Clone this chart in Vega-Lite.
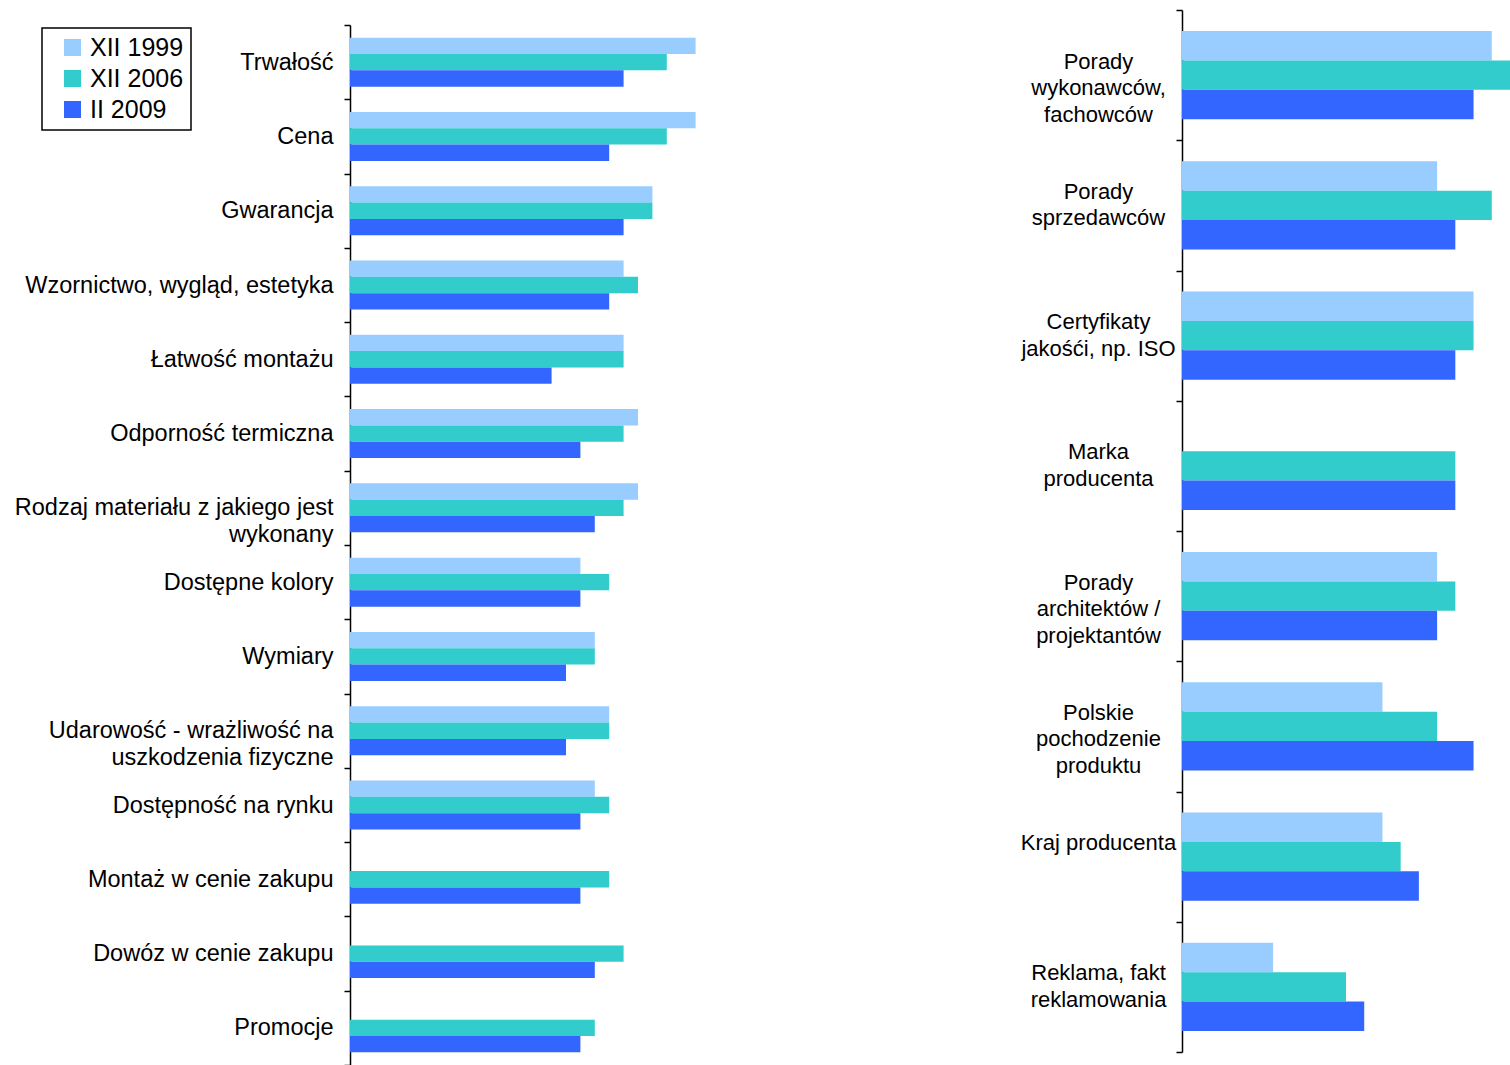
{
  "$schema": "https://vega.github.io/schema/vega-lite/v6.json",
  "background": "white",
  "autosize": {"type": "none"},
  "padding": {"left": 350, "top": 10, "right": 1160, "bottom": 1055},
  "config": {
    "font": "Liberation Sans",
    "view": {"stroke": null},
    "axis": {
      "title": null,
      "domainColor": "black",
      "domainWidth": 1.5,
      "tickColor": "black",
      "tickWidth": 1.5,
      "tickSize": 6,
      "tickBand": "extent",
      "labelColor": "black",
      "labelFont": "Liberation Sans",
      "labelLimit": 500,
      "labelLineHeight": 26.5,
      "grid": false
    },
    "legend": {
      "orient": "none",
      "legendX": -308,
      "legendY": 18,
      "strokeColor": "black",
      "strokeWidth": 1.5,
      "padding": 7,
      "symbolType": "square",
      "symbolSize": 289,
      "symbolStrokeWidth": 0,
      "symbolOffset": 11,
      "labelOffset": 5,
      "labelFont": "Liberation Sans",
      "labelFontSize": 25,
      "labelColor": "black",
      "rowPadding": 5
    }
  },
  "datasets": {
    "cechy_produktu": [
      {"cecha": "Trwałość", "okres": "XII 1999", "ocena": 4.8},
      {"cecha": "Trwałość", "okres": "XII 2006", "ocena": 4.4},
      {"cecha": "Trwałość", "okres": "II 2009", "ocena": 3.8},
      {"cecha": "Cena", "okres": "XII 1999", "ocena": 4.8},
      {"cecha": "Cena", "okres": "XII 2006", "ocena": 4.4},
      {"cecha": "Cena", "okres": "II 2009", "ocena": 3.6},
      {"cecha": "Gwarancja", "okres": "XII 1999", "ocena": 4.2},
      {"cecha": "Gwarancja", "okres": "XII 2006", "ocena": 4.2},
      {"cecha": "Gwarancja", "okres": "II 2009", "ocena": 3.8},
      {"cecha": "Wzornictwo, wygląd, estetyka", "okres": "XII 1999", "ocena": 3.8},
      {"cecha": "Wzornictwo, wygląd, estetyka", "okres": "XII 2006", "ocena": 4.0},
      {"cecha": "Wzornictwo, wygląd, estetyka", "okres": "II 2009", "ocena": 3.6},
      {"cecha": "Łatwość montażu", "okres": "XII 1999", "ocena": 3.8},
      {"cecha": "Łatwość montażu", "okres": "XII 2006", "ocena": 3.8},
      {"cecha": "Łatwość montażu", "okres": "II 2009", "ocena": 2.8},
      {"cecha": "Odporność termiczna", "okres": "XII 1999", "ocena": 4.0},
      {"cecha": "Odporność termiczna", "okres": "XII 2006", "ocena": 3.8},
      {"cecha": "Odporność termiczna", "okres": "II 2009", "ocena": 3.2},
      {"cecha": "Rodzaj materiału z jakiego jest\nwykonany", "okres": "XII 1999", "ocena": 4.0},
      {"cecha": "Rodzaj materiału z jakiego jest\nwykonany", "okres": "XII 2006", "ocena": 3.8},
      {"cecha": "Rodzaj materiału z jakiego jest\nwykonany", "okres": "II 2009", "ocena": 3.4},
      {"cecha": "Dostępne kolory", "okres": "XII 1999", "ocena": 3.2},
      {"cecha": "Dostępne kolory", "okres": "XII 2006", "ocena": 3.6},
      {"cecha": "Dostępne kolory", "okres": "II 2009", "ocena": 3.2},
      {"cecha": "Wymiary", "okres": "XII 1999", "ocena": 3.4},
      {"cecha": "Wymiary", "okres": "XII 2006", "ocena": 3.4},
      {"cecha": "Wymiary", "okres": "II 2009", "ocena": 3.0},
      {"cecha": "Udarowość - wrażliwość na\nuszkodzenia fizyczne", "okres": "XII 1999", "ocena": 3.6},
      {"cecha": "Udarowość - wrażliwość na\nuszkodzenia fizyczne", "okres": "XII 2006", "ocena": 3.6},
      {"cecha": "Udarowość - wrażliwość na\nuszkodzenia fizyczne", "okres": "II 2009", "ocena": 3.0},
      {"cecha": "Dostępność na rynku", "okres": "XII 1999", "ocena": 3.4},
      {"cecha": "Dostępność na rynku", "okres": "XII 2006", "ocena": 3.6},
      {"cecha": "Dostępność na rynku", "okres": "II 2009", "ocena": 3.2},
      {"cecha": "Montaż w cenie zakupu", "okres": "XII 2006", "ocena": 3.6},
      {"cecha": "Montaż w cenie zakupu", "okres": "II 2009", "ocena": 3.2},
      {"cecha": "Dowóz w cenie zakupu", "okres": "XII 2006", "ocena": 3.8},
      {"cecha": "Dowóz w cenie zakupu", "okres": "II 2009", "ocena": 3.4},
      {"cecha": "Promocje", "okres": "XII 2006", "ocena": 3.4},
      {"cecha": "Promocje", "okres": "II 2009", "ocena": 3.2}
    ],
    "zrodla_informacji": [
      {"zrodlo": "Porady\nwykonawców,\nfachowców", "okres": "XII 1999", "ocena": 3.4},
      {"zrodlo": "Porady\nwykonawców,\nfachowców", "okres": "XII 2006", "ocena": 3.6},
      {"zrodlo": "Porady\nwykonawców,\nfachowców", "okres": "II 2009", "ocena": 3.2},
      {"zrodlo": "Porady\nsprzedawców", "okres": "XII 1999", "ocena": 2.8},
      {"zrodlo": "Porady\nsprzedawców", "okres": "XII 2006", "ocena": 3.4},
      {"zrodlo": "Porady\nsprzedawców", "okres": "II 2009", "ocena": 3.0},
      {"zrodlo": "Certyfikaty\njakośći, np. ISO", "okres": "XII 1999", "ocena": 3.2},
      {"zrodlo": "Certyfikaty\njakośći, np. ISO", "okres": "XII 2006", "ocena": 3.2},
      {"zrodlo": "Certyfikaty\njakośći, np. ISO", "okres": "II 2009", "ocena": 3.0},
      {"zrodlo": "Marka\nproducenta", "okres": "XII 2006", "ocena": 3.0},
      {"zrodlo": "Marka\nproducenta", "okres": "II 2009", "ocena": 3.0},
      {"zrodlo": "Porady\narchitektów /\nprojektantów", "okres": "XII 1999", "ocena": 2.8},
      {"zrodlo": "Porady\narchitektów /\nprojektantów", "okres": "XII 2006", "ocena": 3.0},
      {"zrodlo": "Porady\narchitektów /\nprojektantów", "okres": "II 2009", "ocena": 2.8},
      {"zrodlo": "Polskie\npochodzenie\nproduktu", "okres": "XII 1999", "ocena": 2.2},
      {"zrodlo": "Polskie\npochodzenie\nproduktu", "okres": "XII 2006", "ocena": 2.8},
      {"zrodlo": "Polskie\npochodzenie\nproduktu", "okres": "II 2009", "ocena": 3.2},
      {"zrodlo": "Kraj producenta", "okres": "XII 1999", "ocena": 2.2},
      {"zrodlo": "Kraj producenta", "okres": "XII 2006", "ocena": 2.4},
      {"zrodlo": "Kraj producenta", "okres": "II 2009", "ocena": 2.6},
      {"zrodlo": "Reklama, fakt\nreklamowania", "okres": "XII 1999", "ocena": 1.0},
      {"zrodlo": "Reklama, fakt\nreklamowania", "okres": "XII 2006", "ocena": 1.8},
      {"zrodlo": "Reklama, fakt\nreklamowania", "okres": "II 2009", "ocena": 2.0}
    ]
  },
  "bounds": "flush",
  "spacing": 472,
  "resolve": {"scale": {"yOffset": "independent"}},
  "hconcat": [
    {
      "width": 360,
      "height": 1055,
      "data": {"name": "cechy_produktu"},
      "mark": {"type": "bar"},
      "encoding": {
        "y": {
          "field": "cecha",
          "type": "nominal",
          "scale": {
            "domain": [
              "Trwałość", "Cena", "Gwarancja", "Wzornictwo, wygląd, estetyka",
              "Łatwość montażu", "Odporność termiczna",
              "Rodzaj materiału z jakiego jest\nwykonany", "Dostępne kolory",
              "Wymiary", "Udarowość - wrażliwość na\nuszkodzenia fizyczne",
              "Dostępność na rynku", "Montaż w cenie zakupu",
              "Dowóz w cenie zakupu", "Promocje"
            ],
            "range": [15, 1055],
            "paddingInner": 0,
            "paddingOuter": 0
          },
          "axis": {
            "labelFontSize": 23.5,
            "labelPadding": 11,
            "labelAlign": "right",
            "labelBaseline": "middle",
            "labelExpr": "split(datum.label, '\\n')"
          }
        },
        "yOffset": {
          "field": "okres",
          "type": "nominal",
          "scale": {"domain": ["XII 1999", "XII 2006", "II 2009"], "paddingInner": 0, "paddingOuter": 0.775}
        },
        "x": {
          "field": "ocena",
          "type": "quantitative",
          "scale": {"domain": [0, 5], "nice": false},
          "axis": null
        },
        "color": {
          "field": "okres",
          "type": "nominal",
          "title": null,
          "scale": {
            "domain": ["XII 1999", "XII 2006", "II 2009"],
            "range": ["#99CCFF", "#33CCCC", "#3366FF"]
          }
        }
      }
    },
    {
      "width": 328,
      "height": 1042,
      "data": {"name": "zrodla_informacji"},
      "mark": {"type": "bar"},
      "encoding": {
        "y": {
          "field": "zrodlo",
          "type": "nominal",
          "scale": {
            "domain": [
              "Porady\nwykonawców,\nfachowców", "Porady\nsprzedawców",
              "Certyfikaty\njakośći, np. ISO", "Marka\nproducenta",
              "Porady\narchitektów /\nprojektantów", "Polskie\npochodzenie\nproduktu",
              "Kraj producenta", "Reklama, fakt\nreklamowania"
            ],
            "paddingInner": 0,
            "paddingOuter": 0
          },
          "axis": {
            "labelFontSize": 22,
            "labelPadding": 78,
            "labelAlign": "center",
            "labelBaseline": "line-bottom",
            "labelExpr": "split(datum.label, '\\n')"
          }
        },
        "yOffset": {
          "field": "okres",
          "type": "nominal",
          "scale": {"domain": ["XII 1999", "XII 2006", "II 2009"], "paddingInner": 0, "paddingOuter": 0.72}
        },
        "x": {
          "field": "ocena",
          "type": "quantitative",
          "scale": {"domain": [0, 3.6], "nice": false},
          "axis": null
        },
        "color": {
          "field": "okres",
          "type": "nominal",
          "title": null,
          "scale": {
            "domain": ["XII 1999", "XII 2006", "II 2009"],
            "range": ["#99CCFF", "#33CCCC", "#3366FF"]
          }
        }
      }
    }
  ]
}
